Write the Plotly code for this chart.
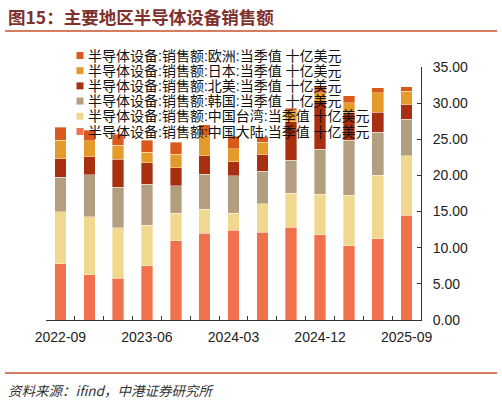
import plotly.graph_objects as go

# quarterly semiconductor equipment sales by region, billion USD
quarters = ["2022-09", "2022-12", "2023-03", "2023-06", "2023-09", "2023-12", "2024-03",
            "2024-06", "2024-09", "2024-12", "2025-03", "2025-06", "2025-09"]
shown_ticks = ["2022-09", "2023-06", "2024-03", "2024-12", "2025-09"]

china = [7.75, 6.27, 5.81, 7.51, 10.93, 12.03, 12.45, 12.13, 12.86, 11.80, 10.24, 11.25, 14.48]
taiwan = [7.23, 7.98, 6.92, 5.63, 3.83, 3.28, 2.31, 3.92, 4.66, 5.63, 7.05, 8.77, 8.21]
korea = [4.80, 5.81, 5.63, 5.67, 3.78, 4.84, 5.20, 4.52, 4.57, 6.22, 7.61, 5.94, 5.07]
north_america = [2.53, 2.53, 3.87, 2.95, 2.53, 2.58, 1.90, 2.30, 5.34, 6.60, 3.74, 2.77, 2.02]
japan = [2.59, 2.21, 1.98, 1.48, 1.85, 2.76, 1.84, 1.71, 1.50, 1.20, 1.42, 2.71, 1.90]
europe = [1.76, 1.48, 1.52, 1.66, 1.66, 1.53, 1.75, 0.78, 0.35, 0.80, 0.93, 0.69, 0.59]

names = [
    "半导体设备:销售额:中国大陆:当季值 十亿美元",
    "半导体设备:销售额:中国台湾:当季值 十亿美元",
    "半导体设备:销售额:韩国:当季值 十亿美元",
    "半导体设备:销售额:北美:当季值 十亿美元",
    "半导体设备:销售额:日本:当季值 十亿美元",
    "半导体设备:销售额:欧洲:当季值 十亿美元",
]
series = [china, taiwan, korea, north_america, japan, europe]
colors = ["#EF724C", "#F0D98F", "#B39E80", "#A82F10", "#E59B29", "#D95A1A"]

FONT = "Liberation Sans, Arial, Noto Sans CJK SC, sans-serif"

fig = go.Figure()
for name, vals, col in zip(names, series, colors):
    fig.add_trace(go.Bar(
        x=quarters, y=vals, name=name, marker_color=col,
        marker_line=dict(color="rgba(255,255,255,0.6)", width=0.6),
        showlegend=False,
    ))

# plot area in pixels: x 46..421, y 67..320
W, H = 502, 403
L, R, T, B = 46, 81, 67, 83
pw, ph = W - L - R, H - T - B


def px(x):
    return (x - L) / pw


def py(y):
    return (H - B - y) / ph


annotations = []
shapes = []

# legend drawn as text lines, top entry is the last series
for i, (name, col) in enumerate(zip(names[::-1], colors[::-1])):
    yc = 55.5 + i * 15.2
    annotations.append(dict(
        x=px(86), y=py(yc), xref="paper", yref="paper", xanchor="left", yanchor="middle",
        text=name, showarrow=False, font=dict(family=FONT, size=14, color="#111111"),
    ))
    shapes.append(dict(
        type="rect", xref="paper", yref="paper", xsizemode="pixel", ysizemode="pixel",
        xanchor=px(80), yanchor=py(yc), x0=-3.5, x1=3.5, y0=-3.5, y1=3.5,
        fillcolor=col, line=dict(width=0),
    ))

# title, separator lines and source note
annotations.append(dict(
    x=px(6), y=py(16), xref="paper", yref="paper", xanchor="left", yanchor="middle",
    text="<b>图15：主要地区半导体设备销售额</b>", showarrow=False,
    font=dict(family="Noto Sans CJK SC", size=17.5, color="#80302C"),
))
annotations.append(dict(
    x=px(6), y=py(390), xref="paper", yref="paper", xanchor="left", yanchor="middle",
    text="<i>资料来源：ifind，中港证券研究所</i>", showarrow=False,
    font=dict(family="Noto Sans CJK SC", size=13.5, color="#333333"),
))
for yl in (31, 373):
    shapes.append(dict(
        type="line", xref="paper", yref="paper", x0=px(5), x1=px(497), y0=py(yl), y1=py(yl),
        line=dict(color="#C8502A", width=1.3),
    ))

fig.update_layout(
    barmode="stack",
    bargap=0.6,
    width=W, height=H,
    margin=dict(l=L, r=R, t=T, b=B, pad=0),
    paper_bgcolor="white",
    plot_bgcolor="white",
    font=dict(family=FONT, size=14, color="#222222"),
    annotations=annotations,
    shapes=shapes,
    xaxis=dict(
        type="category",
        tickmode="array",
        tickvals=quarters,
        ticktext=[q if q in shown_ticks else "" for q in quarters],
        tickson="boundaries",
        tickangle=0,
        automargin=False,
        ticks="inside", ticklen=4, tickcolor="#333333",
        showline=True, linecolor="#333333", linewidth=1,
        showgrid=False, zeroline=False,
        tickfont=dict(size=14, color="#222222"),
        ticklabelstandoff=4,
    ),
    yaxis=dict(
        side="right",
        range=[0, 35],
        dtick=5,
        tickformat=".2f",
        automargin=False,
        ticks="inside", ticklen=4, tickcolor="#333333",
        showline=True, linecolor="#333333", linewidth=1,
        showgrid=False, zeroline=False,
        tickfont=dict(size=14, color="#222222"),
        ticklabelstandoff=8,
    ),
)

# drop the page's default body margin so the figure sits at the window's corner
fig.write_html("out.html", config={"displayModeBar": False},
               post_script="document.body.style.margin='0';")
